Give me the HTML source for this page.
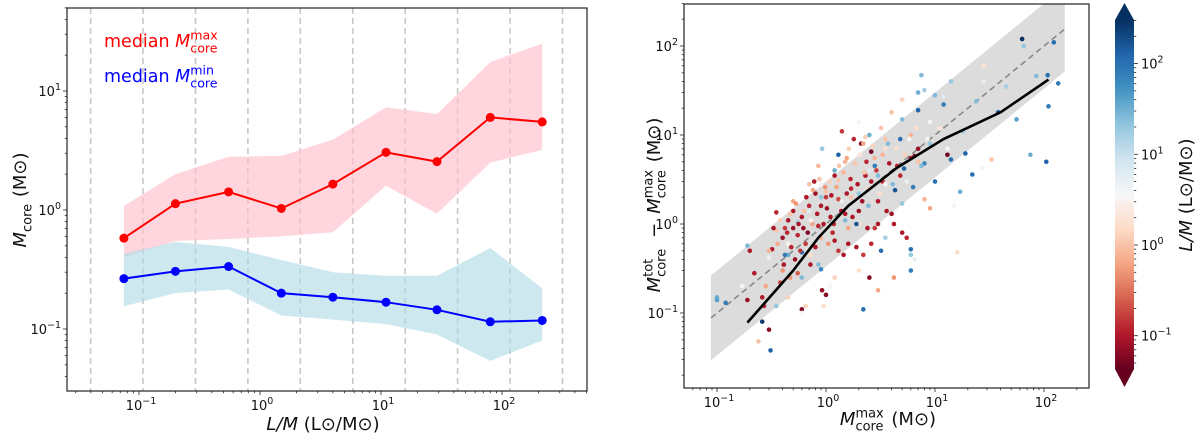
<!DOCTYPE html>
<html><head><meta charset="utf-8"><style>
body{margin:0;background:#fff;}
svg{display:block;font-family:"DejaVu Sans","Liberation Sans",sans-serif;}
svg text{white-space:pre;}
</style></head><body>
<svg id="s" width="1200" height="440" viewBox="0 0 1200 440" xmlns="http://www.w3.org/2000/svg">
<defs>
<linearGradient id="rdbu" x1="0" y1="1" x2="0" y2="0">
<stop offset="0" stop-color="#67001f"/><stop offset="0.1" stop-color="#b2182b"/><stop offset="0.2" stop-color="#d6604d"/><stop offset="0.3" stop-color="#f4a582"/><stop offset="0.4" stop-color="#fddbc7"/><stop offset="0.5" stop-color="#f7f7f7"/><stop offset="0.6" stop-color="#d1e5f0"/><stop offset="0.7" stop-color="#92c5de"/><stop offset="0.8" stop-color="#4393c3"/><stop offset="0.9" stop-color="#2166ac"/><stop offset="1" stop-color="#053061"/>
</linearGradient>
<clipPath id="clipL"><rect x="67" y="8" width="520" height="383"/></clipPath>
<clipPath id="clipR"><rect x="684" y="4" width="405" height="384"/></clipPath>
</defs>
<g id="left"></g>
<g id="right"></g>
<g id="cbar"></g>
</svg>
<script>
// ---- left chart data ----
const lmX = [0.075, 0.2, 0.55, 1.5, 4, 11, 29, 80, 215];
const maxMedian = [0.58, 1.13, 1.42, 1.03, 1.65, 3.05, 2.55, 6.0, 5.5];
const maxUpper = [1.08, 2.0, 2.8, 2.85, 3.9, 7.3, 6.4, 17.5, 25];
const maxLower = [0.4, 0.55, 0.57, 0.6, 0.65, 1.6, 0.93, 2.5, 3.2];
const minMedian = [0.265, 0.305, 0.335, 0.2, 0.185, 0.168, 0.145, 0.115, 0.118];
const minUpper = [0.43, 0.54, 0.49, 0.38, 0.3, 0.28, 0.28, 0.48, 0.22];
const minLower = [0.155, 0.2, 0.215, 0.13, 0.12, 0.11, 0.09, 0.054, 0.08];
const binEdgesLog = [-1.4, -0.967, -0.533, -0.1, 0.333, 0.767, 1.2, 1.633, 2.067, 2.5];
const leftXTicks = [-1, 0, 1, 2];
const leftYTicks = [-1, 0, 1];
// ---- right chart data ----
const medX = [0.19, 0.5, 0.85, 1.6, 4.5, 12, 40, 110];
const medY = [0.078, 0.3, 0.7, 1.6, 4.3, 9, 18, 42];
const oneToOne = [0.088, 155];
const bandFactor = 3;
const rightXTicks = [-1, 0, 1, 2];
const rightYTicks = [-1, 0, 1, 2];
const cbarTicks = [-1, 0, 1, 2];
const scatterX = [0.2,0.22,0.26,0.19,0.3,0.27,0.32,0.35,0.4,0.42,0.45,0.48,0.5,0.52,0.55,0.6,0.6,0.62,0.65,0.7,0.72,0.78,0.8,0.85,0.9,0.92,1.0,1.0,1.1,1.15,1.2,1.3,1.4,1.5,1.6,1.7,1.8,2.0,2.1,2.2,2.3,2.5,2.6,2.8,3.0,3.3,3.6,4.0,4.5,5.0,5.5,6.0,6.5,7,13,0.38,1.3,0.55,
0.24,0.28,0.3,0.35,0.4,0.45,0.5,0.6,0.65,0.7,0.75,0.85,0.95,1.0,1.05,1.2,1.3,1.5,1.7,2.0,2.2,2.5,2.8,3.0,3.2,3.5,4.0,4.2,5,6,7,8,9,16,28,33,11,2.0,0.9,
0.17,0.3,0.45,0.6,0.7,0.9,1.1,1.4,2.0,2.5,3.5,5.5,9,12,13,15,27,28,6.5,
0.1,0.19,0.35,0.45,0.55,0.6,0.92,1.2,1.5,2.0,2.5,3.0,3.5,5,6,7,7.5,8,9,10,14,17,18,24,56,75,85,65,45,0.1,
0.12,0.26,0.31,0.42,0.6,0.9,1.3,1.9,2.2,2.8,3.2,4.3,4.8,5.2,6,6,7,8,10,12,14,19,22,38,105,110,108,123,135,63,
0.33,0.36,0.38,0.41,0.44,0.47,0.5,0.53,0.56,0.58,0.63,0.66,0.68,0.73,0.76,0.8,0.83,0.87,0.9,0.95,0.98,1.02,1.08,1.12,1.18,1.25,1.32,1.38,1.45,1.55,1.62,1.68,1.75,1.85,1.95,2.05,2.15,2.25,2.35,2.45,2.6,2.7,2.9,3.1,3.3,3.5,3.8,4.1,4.4,4.8,5.3,5.8,6.3,6.8,7.5,8.5,2.4,1.9,1.6,0.72,3.0,2.6,1.2,0.47,0.85,1.45,4.2,5.0,3.7,2.3,1.55];
const scatterY = [0.5,0.28,0.15,0.14,0.065,0.12,0.52,1.35,0.7,0.9,1.1,0.55,1.4,0.4,0.75,1.2,0.11,0.9,0.6,1.6,0.35,3.0,2.2,0.95,1.6,0.18,0.16,2.0,1.2,0.8,3.5,0.5,11,1.3,0.6,2.5,9,1.4,8,0.45,3.5,0.25,6.5,0.9,1.8,3.0,1.4,1.3,4.5,0.8,0.7,5.5,5.8,7,6,0.22,1.9,0.28,
0.048,0.2,0.5,0.85,0.3,0.15,1.8,0.25,0.12,2.8,1.0,4.5,0.12,2.3,0.6,0.25,3.1,5,2.0,0.3,8,2.5,5.5,0.18,12,7,18,0.25,25,10,5,1.9,1.5,0.48,60,5.3,12,1.0,0.7,
0.2,0.42,0.6,0.1,1.4,2.8,0.2,1.8,14,4.0,2.8,3,14,27,7,1.6,4.3,40,0.4,
0.15,0.57,0.12,0.45,1.05,0.25,7,4,1.1,2.2,10,3.5,0.7,15,0.45,30,47,32,8,28,40,2.3,11,24,15,6,46,100,35,0.14,
0.13,0.08,0.038,0.45,0.48,0.31,6,1.0,0.11,4.5,0.5,2.4,9,4.2,0.3,0.52,19,4.8,3.0,22,5.3,6.2,3.6,18,5,21,47,110,38,120,
0.9,0.6,1.1,0.35,0.8,1.3,0.9,1.7,1.0,0.5,1.4,2.0,0.8,1.1,2.4,0.55,1.3,3.2,2.0,1.0,2.6,1.5,3.0,2.1,1.0,2.6,4.5,1.4,3.8,2.2,7,3.2,1.2,4.8,2.8,6,1.8,3.8,5,1.6,3.0,7.5,4.0,2.2,6,9,4.8,2.8,7,3.5,6,9,2.6,12,4.5,9,0.9,0.55,0.9,0.45,1.0,0.6,0.65,0.25,0.35,0.45,1.0,1.7,8,9.5,5.5];
const scatterLM = [-1,-1,-1,-1.1,-1.2,-0.9,-1,-0.9,-1.1,-0.8,-1,-0.9,-1,-1.1,-0.9,-1,-1.2,-1.1,-0.8,-0.9,-1,-1,-1.1,-0.9,-1,-1.1,-1.2,-0.8,-1,-0.9,-1,-0.8,-0.8,-1,-1,-0.9,-0.9,-1.1,-1.2,-0.8,-1,-1.2,-1.3,-0.8,-1,-0.9,-1,-1.1,-0.9,-1,-0.9,-1,-1.2,-1.1,-1.3,-0.7,-0.7,-0.6,
0,-0.2,-0.1,0,-0.3,0.1,-0.2,0,0.1,0,-0.2,-0.1,0.2,0,-0.3,0.1,0,-0.1,0,0.2,-0.2,0.1,-0.1,-0.2,0,0.2,0,-0.3,0.1,-0.1,0,-0.1,-0.2,0.2,0.3,0,0.3,0.2,-0.1,
0.6,0.7,0.5,0.6,0.8,0.6,0.5,0.7,0.6,0.8,0.5,0.7,0.6,0.8,0.5,0.6,0.5,0.7,0.7,
1.5,1.4,1.3,1.5,1.2,1.4,1.3,1.5,1.4,1.3,1.5,1.4,1.2,1.4,1.3,1.5,1.4,1.2,1.3,1.4,1.3,1.5,1.3,1.4,1.6,1.5,1.4,1.3,1.2,1.6,
1.9,2.4,2.1,1.9,2.0,1.8,2.1,2.2,2.0,1.9,2.0,2.2,2.0,2.1,1.9,2.0,2.1,1.8,2.0,1.9,2.0,2.1,2.0,2.2,2.1,1.9,2.0,2.0,1.9,2.5,
-1,-0.2,0.1,-1,-0.9,0,-1.1,-0.3,-1,-0.8,0,-1,-1.2,0.5,-0.2,-1,-1,0,1.3,-1,-0.3,-1.1,0.1,-1,-0.9,-0.2,0,-1,-0.1,-1,0.1,-0.9,-1,0,-1,0.3,-1.1,0,-0.9,1.4,-1,0.1,-0.8,0.2,-0.1,0,-1,1.4,0.2,-0.9,0.1,0.6,1.9,0.2,1.4,0.5,-1,-1,-0.2,0.2,-1,-0.9,-1,-0.3,1.4,-1,-1,1.3,1.4,0.1,-0.2];

const NS='http://www.w3.org/2000/svg';
function mk(parent,tag,attrs,text){const e=document.createElementNS(NS,tag);for(const k in attrs)e.setAttribute(k,attrs[k]);if(text!==undefined)e.textContent=text;parent.appendChild(e);return e;}
const L=document.getElementById('left'),R=document.getElementById('right'),C=document.getElementById('cbar');
const lg=Math.log10;
const lx=v=>260+121*lg(v), ly=v=>210-119*lg(v);
const rx=v=>826+109*lg(v), ry=v=>224-89*lg(v);
const cy=lv=>245-90.7*lv;
const stops=[[0,[103,0,31]],[0.1,[178,24,43]],[0.2,[214,96,77]],[0.3,[244,165,130]],[0.4,[253,219,199]],[0.5,[247,247,247]],[0.6,[209,229,240]],[0.7,[146,197,222]],[0.8,[67,147,195]],[0.9,[33,102,172]],[1,[5,48,97]]];
const cmin=-1.36,cmax=2.47;
function cmap(v){let t=(v-cmin)/(cmax-cmin);t=Math.max(0,Math.min(1,t));for(let i=1;i<stops.length;i++){if(t<=stops[i][0]){const a=stops[i-1],b=stops[i];const f=(t-a[0])/(b[0]-a[0]);const c=a[1].map((x,j)=>Math.round(x+(b[1][j]-x)*f));return 'rgb('+c.join(',')+')';}}return 'rgb(5,48,97)';}

function mathLabel(parent,cx,cyy,rot,fs,color,parts,name){
 const g=mk(parent,'g',{});
 
 
 const inner=mk(g,'g',{});
 let x=0;const sfs=fs*0.72;
 parts.forEach(p=>{
  if(p[1]==='ss'){
   const a=mk(inner,'text',{x:x,y:-fs*0.42,'font-size':sfs,fill:color},p[0][0]);
   const b=mk(inner,'text',{x:x,y:fs*0.3,'font-size':sfs,fill:color},p[0][1]);
   x+=Math.max(a.getComputedTextLength(),b.getComputedTextLength())+2;
  } else if(p[1]==='sub'){
   const b=mk(inner,'text',{x:x,y:fs*0.3,'font-size':sfs,fill:color},p[0]);x+=b.getComputedTextLength()+1;
  } else {
   const a=mk(inner,'text',{x:x,y:0,'font-size':fs,fill:color,'font-style':p[1]==='i'?'italic':'normal'},p[0]);x+=a.getComputedTextLength();
  }
 });
 const w=x;
 if(rot===null){inner.setAttribute('transform','translate('+cx+','+cyy+')');}
 else if(rot==='center'){inner.setAttribute('transform','translate('+(-w/2)+',0)');g.setAttribute('transform','translate('+cx+','+cyy+')');}
 else {inner.setAttribute('transform','translate('+(-w/2)+',0)');g.setAttribute('transform','translate('+cx+','+cyy+') rotate('+rot+')');}
 return g;
}

// ===== LEFT =====
const lc=mk(L,'g',{'clip-path':'url(#clipL)'});
binEdgesLog.forEach(b=>{const x=260+121*b;
 const e=mk(lc,'line',{x1:x,x2:x,y1:8,y2:391,stroke:'#c8c8c8','stroke-width':1.6,'stroke-dasharray':'6,4'});
 });
function band(g,xs,up,lo,fill,op,name){let d='M'+xs.map((x,i)=>lx(x)+','+ly(up[i])).join(' L')+' L'+xs.map((x,i)=>lx(x)+','+ly(lo[i])).reverse().join(' L')+'Z';
 const e=mk(g,'path',{d:d,fill:fill,'fill-opacity':op});}
band(lc,lmX,maxUpper,maxLower,'#ffc0cb',0.65,'max-core-range-band');
band(lc,lmX,minUpper,minLower,'#add8e6',0.6,'min-core-range-band');
function series(g,xs,ys,col,name){const e=mk(g,'polyline',{points:xs.map((x,i)=>lx(x)+','+ly(ys[i])).join(' '),fill:'none',stroke:col,'stroke-width':2});
 
 xs.forEach((x,i)=>{const c=mk(g,'circle',{cx:lx(x),cy:ly(ys[i]),r:4.5,fill:col});});}
series(lc,lmX,maxMedian,'#ff0000','median-max-core');
series(lc,lmX,minMedian,'#0000ff','median-min-core');

function frame(g,x0,y0,x1,y1){const e=mk(g,'rect',{x:x0,y:y0,width:x1-x0,height:y1-y0,fill:'none',stroke:'#222','stroke-width':1.2});}
frame(L,67,8,587,391);
function sup(g,x,y,exp,anchor,name){const t=mk(g,'text',{x:x,y:y,'font-size':13,'text-anchor':anchor,fill:'#111'});
 mk(t,'tspan',{},'10');mk(t,'tspan',{dy:-6,'font-size':9.5},exp===-1?'\u22121':String(exp));return t;}
function logTicksX(g,fx,lo,hi,yb,majors,name){for(let d=Math.floor(lo);d<=hi;d++){for(let m=1;m<10;m++){const v=Math.log10(m)+d;if(v<lo||v>hi)continue;const x=fx(Math.pow(10,v));mk(g,'line',{x1:x,x2:x,y1:yb,y2:yb+(m===1?4:2.2),stroke:'#222','stroke-width':0.8});}}
 majors.forEach(e=>sup(g,fx(Math.pow(10,e))+2,yb+19,e,'middle',name));}
function logTicksY(g,fy,lo,hi,xl,majors,name){for(let d=Math.floor(lo);d<=hi;d++){for(let m=1;m<10;m++){const v=Math.log10(m)+d;if(v<lo||v>hi)continue;const y=fy(Math.pow(10,v));mk(g,'line',{x1:xl,x2:xl-(m===1?4:2.2),y1:y,y2:y,stroke:'#222','stroke-width':0.8});}}
 majors.forEach(e=>sup(g,xl-6,fy(Math.pow(10,e))+5,e,'end',name));}
logTicksX(L,lx,-1.59,2.7,391,leftXTicks,'x-tick-label');
logTicksY(L,ly,-1.52,1.7,67,leftYTicks,'y-tick-label');

mathLabel(L,104,47,null,17.5,'#ff0000',[['median ','n'],['M','i'],[['max','core'],'ss']],'legend-median-max');
mathLabel(L,104,82,null,17.5,'#0000ff',[['median ','n'],['M','i'],[['min','core'],'ss']],'legend-median-min');
mathLabel(L,323,430,'center',18,'#111',[['L/M','i'],[' (L\u2299/M\u2299)','n']],'x-axis-title');
mathLabel(L,26,200,-90,18,'#111',[['M','i'],['core','sub'],[' (M\u2299)','n']],'y-axis-title');

// ===== RIGHT =====
const rc=mk(R,'g',{'clip-path':'url(#clipR)'});
let e=mk(rc,'polygon',{points:[[oneToOne[0],oneToOne[0]*bandFactor],[oneToOne[1],oneToOne[1]*bandFactor],[oneToOne[1],oneToOne[1]/bandFactor],[oneToOne[0],oneToOne[0]/bandFactor]].map(p=>rx(p[0])+','+ry(p[1])).join(' '),fill:'#dcdcdc'});

e=mk(rc,'line',{x1:rx(oneToOne[0]),y1:ry(oneToOne[0]),x2:rx(oneToOne[1]),y2:ry(oneToOne[1]),stroke:'#888','stroke-width':1.6,'stroke-dasharray':'6,4'});

scatterX.forEach((x,i)=>{const c=mk(rc,'circle',{cx:rx(x),cy:ry(scatterY[i]),r:2.3,fill:cmap(scatterLM[i])});
 
 });
e=mk(rc,'polyline',{points:medX.map((x,i)=>rx(x)+','+ry(medY[i])).join(' '),fill:'none',stroke:'#000','stroke-width':2.6});

frame(R,684,4,1089,388);
logTicksX(R,rx,-1.3,2.4,388,rightXTicks,'x-tick-label');
logTicksY(R,ry,-1.84,2.48,684,rightYTicks,'y-tick-label');
mathLabel(R,888,425,'center',18,'#111',[['M','i'],[['max','core'],'ss'],[' (M\u2299)','n']],'x-axis-title');
mathLabel(R,660,205,-90,18,'#111',[['M','i'],[['tot','core'],'ss'],['\u2002\u2212\u2002','n'],['M','i'],[['max','core'],'ss'],[' (M\u2299)','n']],'y-axis-title');

// ===== COLORBAR =====
e=mk(C,'path',{d:'M1115,20 L1124.5,3 L1134,20 Z',fill:'#053061'});
e=mk(C,'path',{d:'M1115,369 L1124.5,387 L1134,369 Z',fill:'#67001f'});
e=mk(C,'rect',{x:1115,y:20,width:19,height:349,fill:'url(#rdbu)'});
for(let d=-2;d<=2;d++){for(let m=1;m<10;m++){const v=Math.log10(m)+d;const y=cy(v);if(y<20||y>369)continue;mk(C,'line',{x1:1134,x2:1134+(m===1?4:2.2),y1:y,y2:y,stroke:'#222','stroke-width':0.8});}}
cbarTicks.forEach(k=>sup(C,1141,cy(k)+5,k,'start','colorbar-tick-label'));
mathLabel(C,1192,195,-90,18,'#111',[['L/M','i'],[' (L\u2299/M\u2299)','n']],'colorbar-title');
</script>
</body></html>
